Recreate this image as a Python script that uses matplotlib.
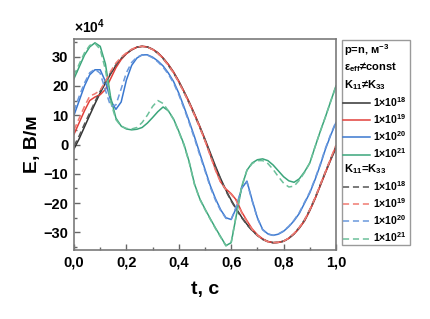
import matplotlib
matplotlib.use("Agg")
import matplotlib.pyplot as plt
from matplotlib.patches import Rectangle
from matplotlib.ticker import MultipleLocator, FuncFormatter

plt.rcParams['font.family'] = ['Liberation Sans', 'DejaVu Sans']
plt.rcParams['font.weight'] = 'bold'
plt.rcParams['mathtext.default'] = 'regular'

# time grid (s)
t = [0.00, 0.02, 0.04, 0.06, 0.08, 0.10, 0.12, 0.14, 0.16, 0.18,
     0.20, 0.22, 0.24, 0.26, 0.28, 0.30, 0.32, 0.34, 0.36, 0.38,
     0.40, 0.42, 0.44, 0.46, 0.48, 0.50, 0.52, 0.54, 0.56, 0.58,
     0.60, 0.62, 0.64, 0.66, 0.68, 0.70, 0.72, 0.74, 0.76, 0.78,
     0.80, 0.82, 0.84, 0.86, 0.88, 0.90, 0.92, 0.94, 0.96, 0.98, 1.00]

# E values (x1e4 V/m), K11 != K33 (solid)
e18 = [-1.5, 2.0, 6.0, 10.0, 13.9, 17.6, 21.0, 24.1, 26.9, 29.2,
       31.0, 32.3, 33.2, 33.5, 33.3, 32.5, 31.3, 29.5, 27.3, 24.7,
       21.6, 18.1, 14.4, 10.4, 6.2, 1.8, -2.8, -7.4, -11.7, -15.6,
       -19.0, -22.0, -24.8, -27.2, -29.3, -31.0, -32.3, -33.1, -33.5, -33.4,
       -33.0, -32.0, -30.5, -28.5, -26.0, -22.5, -18.5, -14.0, -9.5, -5.2, -1.2]
e19 = [3.5, 7.5, 11.5, 15.0, 16.2, 17.0, 18.8, 22.5, 26.2, 29.0,
       31.0, 32.3, 33.2, 33.5, 33.3, 32.5, 31.3, 29.5, 27.3, 24.7,
       21.5, 18.0, 14.3, 10.3, 6.1, 1.5, -3.5, -8.5, -12.8, -15.2,
       -16.8, -19.0, -23.0, -26.0, -28.8, -30.8, -32.2, -33.1, -33.5, -33.4,
       -33.0, -32.0, -30.5, -28.5, -26.0, -22.5, -18.5, -14.0, -9.5, -5.0, -0.5]
e20 = [10.0, 15.0, 20.0, 23.8, 25.5, 25.5, 21.5, 15.0, 12.0, 14.5,
       22.0, 27.0, 29.5, 30.6, 30.6, 29.8, 28.5, 26.8, 24.4, 21.5,
       17.5, 12.8, 7.8, 2.6, -3.0, -8.5, -14.0, -18.5, -22.3, -25.0,
       -25.6, -21.5, -15.0, -12.5, -19.0, -25.0, -29.0, -30.5, -31.0, -30.6,
       -29.6, -28.0, -26.0, -23.5, -20.0, -16.5, -12.0, -7.0, -1.5, 3.2, 7.5]
e21 = [22.5, 26.5, 30.5, 33.3, 34.7, 33.5, 27.5, 16.0, 9.0, 6.3,
       5.3, 5.0, 5.2, 5.8, 7.3, 9.2, 11.2, 12.8, 11.5, 8.7,
       4.5, 0.0, -6.0, -13.5, -18.5, -22.0, -25.3, -28.5, -31.5, -34.5,
       -33.5, -24.0, -14.5, -8.8, -6.3, -5.2, -4.9, -5.5, -7.0, -9.0,
       -11.0, -12.4, -12.9, -11.7, -9.3, -6.3, -0.8, 4.5, 9.5, 14.8, 20.0]

# K11 = K33 (dashed)
d18 = [-0.5, 3.0, 7.0, 10.8, 14.6, 18.2, 21.5, 24.5, 27.2, 29.4,
       31.1, 32.4, 33.2, 33.5, 33.3, 32.4, 31.1, 29.3, 27.0, 24.4,
       21.3, 17.8, 14.0, 10.0, 5.8, 1.4, -3.2, -7.8, -12.0, -15.9,
       -19.3, -22.3, -25.0, -27.4, -29.4, -31.1, -32.4, -33.2, -33.5, -33.4,
       -33.0, -32.0, -30.4, -28.3, -25.7, -22.2, -18.2, -13.7, -9.2, -4.8, -0.8]
d19 = [5.0, 9.0, 13.0, 16.5, 17.3, 18.5, 21.5, 25.0, 27.8, 29.8,
       31.3, 32.5, 33.3, 33.5, 33.2, 32.4, 31.1, 29.3, 27.0, 24.4,
       21.2, 17.7, 14.0, 10.0, 5.8, 1.2, -3.8, -8.8, -13.0, -15.4,
       -17.0, -19.3, -23.3, -26.3, -29.0, -31.0, -32.3, -33.2, -33.5, -33.4,
       -33.0, -31.9, -30.3, -28.3, -25.7, -22.2, -18.2, -13.7, -9.2, -4.7, -0.2]
d20 = [11.5, 16.5, 21.0, 24.5, 25.7, 24.3, 18.5, 13.0, 13.5, 19.0,
       24.5, 28.0, 29.8, 30.5, 30.5, 29.6, 28.2, 26.4, 24.0, 21.0,
       17.0, 12.3, 7.3, 2.0, -3.6, -9.0, -14.5, -19.0, -22.6, -25.2,
       -25.5, -21.0, -14.7, -12.8, -19.3, -25.2, -29.1, -30.6, -31.0, -30.5,
       -29.5, -27.9, -25.8, -23.2, -19.7, -16.2, -11.7, -6.7, -1.2, 3.5, 7.8]
d21 = [23.5, 27.5, 31.3, 33.8, 34.5, 32.5, 25.5, 14.5, 8.5, 6.2,
       5.5, 5.3, 5.8, 7.5, 10.0, 13.0, 15.0, 14.0, 11.5, 8.5,
       4.3, -0.3, -6.3, -13.7, -18.7, -22.2, -25.5, -28.7, -31.7, -34.6,
       -33.3, -23.7, -14.3, -8.8, -6.5, -5.5, -5.5, -6.5, -8.5, -11.0,
       -13.2, -14.5, -14.2, -12.2, -9.5, -6.3, -0.8, 4.5, 9.5, 14.8, 20.0]

labels = ['1×10$^{18}$', '1×10$^{19}$', '1×10$^{20}$', '1×10$^{21}$']
headers = ['p=n, м$^{-3}$', 'ε$_{eff}$≠const', 'K$_{11}$≠K$_{33}$', 'K$_{11}$=K$_{33}$']
solid_colors = ['#333333', '#e2403a', '#3a78d0', '#3aa57a']
dash_colors = ['#555555', '#f07a72', '#6a98dc', '#6cc09a']

fig = plt.figure(figsize=(4.30, 3.19), dpi=100)
ax = fig.add_axes([74/430, 1-250/319, (336-74)/430, (250-39)/319])

solid_series = [e18, e19, e20, e21]
dash_series = [d18, d19, d20, d21]

h_solid = []
for y, c, lab in zip(solid_series, solid_colors, labels):
    ln, = ax.plot(t, y, color=c, lw=1.1, label=lab)
    h_solid.append(ln)
h_dash = []
for y, c, lab in zip(dash_series, dash_colors, labels):
    ln, = ax.plot(t, y, color=c, lw=1.1, ls=(0, (4, 2.5)), label=lab)
    h_dash.append(ln)

ax.set_xlim(0, 1.0)
ax.set_ylim(-36, 36)
ax.xaxis.set_major_locator(MultipleLocator(0.2))
ax.xaxis.set_minor_locator(MultipleLocator(0.1))
ax.yaxis.set_major_locator(MultipleLocator(10))
ax.yaxis.set_minor_locator(MultipleLocator(5))
ax.xaxis.set_major_formatter(FuncFormatter(lambda v, p: f"{v:.1f}".replace('.', ',')))
ax.yaxis.set_major_formatter(FuncFormatter(lambda v, p: f"{int(round(v))}".replace('-', '\u2212')))
ax.tick_params(which='both', direction='in', top=False, right=False,
               color='#666666', labelsize=10.5, pad=4)
ax.tick_params(which='major', length=4, width=1)
ax.tick_params(which='minor', length=2.5, width=1)
for lab in ax.get_xticklabels() + ax.get_yticklabels():
    lab.set_fontweight('bold')
for sp in ax.spines.values():
    sp.set_color('#7a7a7a')
    sp.set_linewidth(1.2)

ax.set_xlabel('t, с', fontsize=14, fontweight='bold', labelpad=8)
ax.set_ylabel('E, В/м', fontsize=14, fontweight='bold', labelpad=2)
ax.text(0.0, 1.015, '×10$^{4}$', transform=ax.transAxes, ha='left', va='bottom',
        fontsize=10, fontweight='bold')

# legend frame
fig.patches.append(Rectangle((342/430, 1-245/319), 68/430, 205/319,
                             transform=fig.transFigure, fill=False,
                             edgecolor='#9a9a9a', lw=1.0))

# legend header lines
for txt, ypx in zip(headers, [50, 67, 85, 169]):
    fig.text(344/430, 1-ypx/319, txt, ha='left', va='center',
             fontsize=8, fontweight='bold')

common = dict(frameon=False, fontsize=7.5, handlelength=2.6, handletextpad=0.3,
              labelspacing=0.32, borderpad=0.0, borderaxespad=0.0)
leg1 = fig.legend(handles=h_solid, labels=labels, loc='upper left',
                  bbox_to_anchor=(343/430, 1-95/319), **common)
for tx in leg1.get_texts():
    tx.set_fontweight('bold')
leg2 = fig.legend(handles=h_dash, labels=labels, loc='upper left',
                  bbox_to_anchor=(343/430, 1-179/319), **common)
for tx in leg2.get_texts():
    tx.set_fontweight('bold')

fig.savefig('out.png', dpi=100)
